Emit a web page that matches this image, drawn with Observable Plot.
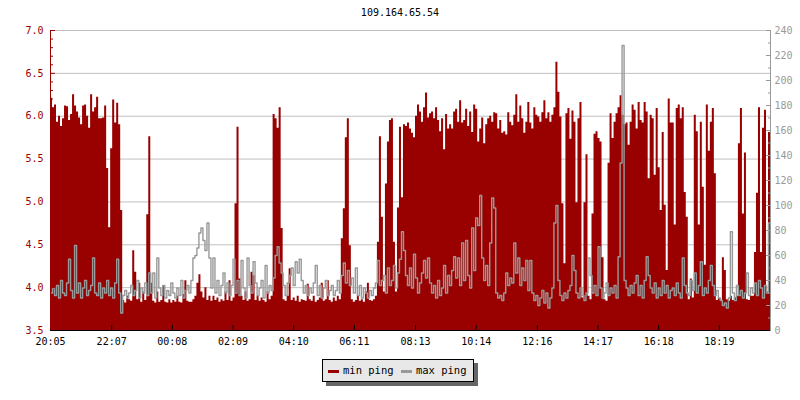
<!DOCTYPE html>
<html><head><meta charset="utf-8">
<script src="https://cdn.jsdelivr.net/npm/d3@7"></script>
<script src="https://cdn.jsdelivr.net/npm/@observablehq/plot@0.6"></script>
<style>
body{margin:0;background:#fff;}
#wrap{position:relative;width:800px;height:400px;font-family:"DejaVu Sans Mono",monospace;}
#title{position:absolute;top:7px;left:0;width:800px;text-align:center;font-size:10px;color:#000;}
#legend{position:absolute;left:322px;top:359px;width:152px;height:23px;box-sizing:border-box;background:#e8e8e8;border:1px solid #000;box-shadow:4px 4px 0 #666;font-size:10.5px;line-height:21px;padding-left:4px;white-space:nowrap;}
.sw{display:inline-block;width:11px;height:3px;vertical-align:middle;margin-right:4px;margin-left:1px;}
#chart{position:absolute;left:0;top:0;}
</style></head>
<body><div id="wrap"><div id="chart"></div><div id="title">109.164.65.54</div>
<div id="legend"><span class="sw" style="background:#990000"></span>min ping <span class="sw" style="background:#999999"></span>max ping</div></div>
<script>
const title = "109.164.65.54";
const seriesNames = ["min ping", "max ping"];
const xTickLabels = ["20:05","22:07","00:08","02:09","04:10","06:11","08:13","10:14","12:16","14:17","16:18","18:19"];
const leftTicks = [3.5, 4.0, 4.5, 5.0, 5.5, 6.0, 6.5, 7.0];
const rightTicks = [0, 20, 40, 60, 80, 100, 120, 140, 160, 180, 200, 220, 240];
const sampleMinutes = 4;
// min ping (ms), one value per 4-minute sample starting 20:05
const minPing = [
6.21,6.1,6.13,5.93,6.0,5.88,5.97,6.12,6.11,5.95,
6.02,6.25,6.12,6.05,5.98,5.9,6.12,6.13,6.0,5.86,
6.25,6.05,6.1,6.22,5.97,5.97,5.98,6.12,5.39,4.7,
5.62,6.19,5.92,6.15,5.9,4.9,3.85,3.82,3.9,3.86,
3.84,4.43,4.18,3.86,4.05,3.83,3.95,3.85,4.85,5.76,
4.05,3.84,3.82,3.95,3.83,3.85,4.02,3.83,3.82,3.86,
3.82,3.85,3.83,3.9,3.83,3.82,3.92,4.08,3.84,3.83,
3.83,3.86,3.9,4.05,4.15,3.95,3.88,4.0,3.85,3.9,
3.84,3.9,3.85,3.88,3.83,3.86,3.84,3.95,3.85,4.08,
3.84,3.88,4.98,5.87,4.1,3.9,3.85,3.95,3.84,3.86,
4.18,4.14,3.85,3.9,3.84,3.88,3.85,3.83,3.95,3.86,
3.9,6.02,5.97,5.86,6.1,4.69,3.86,3.84,3.9,4.22,
3.85,3.88,3.84,3.9,3.83,3.86,3.85,3.84,4.04,3.86,
3.84,3.9,3.83,3.85,3.88,4.05,3.84,3.86,4.08,3.85,
3.83,3.88,3.84,3.9,3.86,4.57,4.92,5.75,5.97,4.49,
3.86,3.83,3.85,3.9,3.84,3.86,3.83,3.95,4.05,3.85,
3.84,3.86,3.9,4.53,5.76,4.82,3.95,5.21,5.7,5.95,
5.97,4.53,3.95,4.93,5.87,5.05,5.9,5.88,5.92,5.85,
5.8,5.75,6.0,6.13,6.05,5.93,6.1,6.27,5.98,6.03,
6.05,5.97,6.1,5.95,5.82,5.97,5.61,6.02,5.85,5.9,
5.85,6.05,6.08,5.93,6.18,5.92,5.95,6.08,5.88,6.05,
5.81,6.13,6.08,5.7,5.85,5.98,5.68,5.9,5.97,6.0,
5.93,6.04,6.03,5.85,5.95,5.8,5.82,5.78,6.04,5.93,
5.89,6.01,6.25,5.93,6.12,5.97,5.8,5.93,6.16,5.92,
5.85,6.1,6.01,5.99,5.93,6.04,6.18,5.97,6.04,5.93,
6.01,6.1,6.63,6.28,5.99,4.98,4.28,6.03,6.09,5.73,
6.06,5.93,4.99,5.97,6.16,3.88,4.99,5.55,3.9,3.86,
4.86,5.79,5.82,5.74,5.7,4.35,3.86,3.84,5.45,6.03,
5.74,5.93,6.03,6.1,6.24,6.01,5.9,5.92,5.66,5.93,
6.13,6.07,5.85,6.16,5.95,5.92,6.16,6.05,5.27,6.01,
5.97,5.31,6.09,5.4,4.9,5.81,4.96,4.2,6.2,5.92,
5.92,4.73,6.09,6.13,5.97,6.1,5.11,4.82,3.86,4.1,
3.88,6.01,5.82,4.73,5.93,5.17,4.26,6.13,5.59,5.93,
6.09,5.33,3.85,3.88,3.84,4.35,4.2,3.86,3.84,3.9,
3.85,3.88,3.9,5.68,6.09,4.86,5.57,3.86,3.85,3.9,
3.9,4.41,5.1,6.1,4.41,5.86,6.07,3.95,5.81,5.87
];
// max ping (ms, right axis), same samples
const maxPing = [
30,34,28,36,26,40,30,28,38,57,
32,26,68,30,38,26,34,40,28,32,
36,58,30,28,38,26,34,30,40,28,
34,26,38,57,30,14,28,32,26,30,
36,28,32,40,26,34,30,38,28,46,
30,46,26,58,34,28,36,26,32,28,
38,30,26,34,28,40,26,32,36,30,
40,58,60,66,78,82,72,64,86,58,
34,58,30,40,28,36,46,30,38,28,
36,57,30,40,28,56,34,26,58,36,
30,55,38,28,34,40,26,52,30,36,
32,42,60,67,54,46,36,28,38,44,
50,36,55,46,57,40,30,36,28,34,
30,38,52,28,36,26,34,40,28,32,
36,28,32,40,30,44,54,38,48,36,
42,30,50,28,36,26,34,30,26,32,
28,34,38,56,36,40,44,30,50,36,
40,52,34,46,57,79,64,44,36,50,
34,61,42,30,38,46,56,42,58,38,
30,36,26,40,28,34,52,30,44,36,
48,59,42,58,36,70,40,72,44,34,
82,48,90,84,108,58,40,52,36,70,
106,98,30,26,28,24,30,46,36,42,
38,70,46,58,36,50,40,56,32,56,
30,24,28,20,26,32,22,30,18,26,
34,86,100,40,28,24,30,26,32,36,
60,48,30,26,34,28,24,30,58,44,
30,36,28,67,34,26,30,38,28,34,
30,36,26,59,134,228,40,34,28,36,
30,38,44,28,36,26,40,59,44,34,
30,38,26,34,28,40,30,36,26,32,
34,28,38,30,26,58,36,30,28,40,
32,46,30,36,55,28,34,30,40,52,
36,28,32,26,24,20,22,18,26,79,
30,24,36,28,32,26,30,46,28,34,
30,38,28,40,34,26,36,30,86,70
];

const yMin = leftTicks[0], yMax = leftTicks[leftTicks.length - 1];
const rMax = rightTicks[rightTicks.length - 1];
const toLeft = r => yMin + r / rMax * (yMax - yMin);
const startMin = 20 * 60 + 5;
const xEnd = 1436;
const data = minPing.map((v, i) => ({
  t: i * sampleMinutes,
  min: v,
  max: toLeft(maxPing[i])
}));
// closing point so the last step reaches the right edge
const stepData = data.concat([{t: xEnd, min: data[data.length - 1].min, max: data[data.length - 1].max}]);
const xPos = xTickLabels.map(s => {
  const [h, m] = s.split(":").map(Number);
  return ((h * 60 + m) - startMin + 1440) % 1440;
});
const labelAt = new Map(xPos.map((p, i) => [p, xTickLabels[i]]));
const leftMinor = d3.range(35, 71).map(k => k / 10).filter(v => !leftTicks.some(t => Math.abs(t - v) < 1e-9));
const rightMinor = d3.range(10, 240, 20).map(toLeft);
const rightPos = rightTicks.map(toLeft);

const red = "#990000", gray = "#999999";
const chart = Plot.plot({
  width: 800, height: 400,
  marginLeft: 50, marginRight: 30, marginTop: 30, marginBottom: 70,
  style: {fontFamily: "DejaVu Sans Mono, monospace", fontSize: "10px", background: "white", overflow: "visible"},
  x: {domain: [0, xEnd]},
  y: {domain: [yMin, yMax]},
  marks: [
    Plot.gridY(leftTicks.slice(1), {stroke: "#c0c0c0", strokeOpacity: 1}),
    Plot.areaY(stepData, {x: "t", y1: yMin, y2: "min", curve: "step-after", fill: red, clip: true}),
    Plot.line(stepData, {x: "t", y: "max", curve: "step-after", stroke: gray, strokeWidth: 1.4, clip: true}),
    Plot.axisY(leftMinor, {anchor: "left", tickSize: -3, tickFormat: () => "", color: red, label: null}),
    Plot.axisY(leftTicks, {anchor: "left", tickSize: -5, tickPadding: 12, tickFormat: d => d.toFixed(1), color: red, label: null}),
    Plot.axisY(rightMinor, {anchor: "right", tickSize: -3, tickFormat: () => "", color: gray, label: null}),
    Plot.axisY(rightPos, {anchor: "right", tickSize: -5, tickPadding: 9, tickFormat: d => String(Math.round((d - yMin) / (yMax - yMin) * rMax)), color: gray, label: null}),
    Plot.axisX(xPos, {anchor: "bottom", tickSize: -5, tickPadding: 12, tickFormat: d => labelAt.get(d), color: "#000", label: null}),
    Plot.ruleX([0], {stroke: red}),
    Plot.ruleX([xEnd], {stroke: gray}),
    Plot.ruleY([yMin], {stroke: "#000"})
  ]
});
document.getElementById("chart").appendChild(chart);
</script>
</body></html>
